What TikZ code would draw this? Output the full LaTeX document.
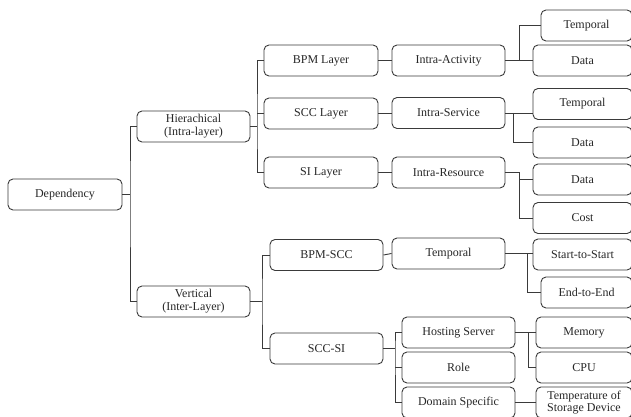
\documentclass[tikz,border=0pt]{standalone}
\usepackage{fontspec}
\setmainfont{Liberation Serif}
\definecolor{linec}{HTML}{3A3A3A}
\begin{document}
\begin{tikzpicture}[x=1pt,y=-1pt,
  box/.style={draw=linec,line width=0.9pt,rounded corners=5pt,inner sep=0pt,
    minimum height=31pt,align=center,font=\fontsize{12}{13}\selectfont,text=black!85},
  conn/.style={draw=linec,line width=0.9pt}]
\useasboundingbox (0,0) rectangle (631,417);
\clip (0,0) rectangle (631,417);
% level 0-1
\node[box,minimum width=114pt] (dep) at (65,194.5) {Dependency};
\node[box,minimum width=113pt] (hier) at (193.5,126.5) {Hierachical\\(Intra-layer)};
\node[box,minimum width=113pt] (vert) at (193.5,301.5) {Vertical\\(Inter-Layer)};
% layers
\node[box,minimum width=114pt] (bpml) at (321,60.5) {BPM Layer};
\node[box,minimum width=114pt] (sccl) at (321,113.5) {SCC Layer};
\node[box,minimum width=114pt] (sil) at (321,172.5) {SI Layer};
\node[box,minimum width=113pt] (ia) at (448.5,60.5) {Intra-Activity};
\node[box,minimum width=113pt] (is) at (448.5,113) {Intra-Service};
\node[box,minimum width=113pt] (ir) at (448.5,172.5) {Intra-Resource};
\node[box,minimum width=91pt] (t1) at (586.5,25.5) {Temporal};
\node[box,minimum width=99pt] (d1) at (582.5,60.5) {Data};
\node[box,minimum width=99pt] (t2) at (582.5,104) {Temporal};
\node[box,minimum width=99pt] (d2) at (582.5,142.5) {Data};
\node[box,minimum width=99pt] (d3) at (582.5,179.5) {Data};
\node[box,minimum width=99pt] (cost) at (582.5,218) {Cost};
% vertical
\node[box,minimum width=113pt] (bpmscc) at (326.5,255) {BPM-SCC};
\node[box,minimum width=113pt] (sccsi) at (326.5,348.5) {SCC-SI};
\node[box,minimum width=113pt] (temp) at (448.5,253.5) {Temporal};
\node[box,minimum width=99pt] (s2s) at (582.5,254.5) {Start-to-Start};
\node[box,minimum width=91pt] (e2e) at (586.5,292.5) {End-to-End};
\node[box,minimum width=113pt] (host) at (458.5,332.5) {Hosting Server};
\node[box,minimum width=113pt] (role) at (458.5,367.5) {Role};
\node[box,minimum width=113pt] (dom) at (458.5,402.5) {Domain Specific};
\node[box,minimum width=96pt] (mem) at (584,332.5) {Memory};
\node[box,minimum width=96pt] (cpu) at (584,367.5) {CPU};
\node[box,minimum width=96pt,font=\fontsize{12}{12}\selectfont] (tsd) at (584,402.5) {Temperature of\\Storage Device};
% junctions
\coordinate (j1) at (130,194.5);
\coordinate (j2) at (257,126.5);
\coordinate (j3) at (519,60.5);
\coordinate (j4) at (513,113);
\coordinate (j5) at (519,172.5);
\coordinate (j6) at (262,301.5);
\coordinate (j7) at (527,253.5);
\coordinate (j8) at (395,348.5);
\coordinate (j9) at (528,332.5);
% connectors
\draw[conn] (dep.east) -- (j1);
\draw[conn] (hier.west) -| (j1) |- (vert.west);
\draw[conn] (hier.east) -- (j2);
\draw[conn] (bpml.west) -| (j2) |- (sil.west);
\draw[conn] (sccl.west) -- (sccl.west -| j2);
\draw[conn] (bpml) -- (ia);
\draw[conn] (sccl.east) -- (is.west |- sccl.east);
\draw[conn] (sil) -- (ir);
\draw[conn] (ia.east) -- (d1.west);
\draw[conn] (t1.west) -| (j3);
\draw[conn] (is.east) -- (is.east -| t2.west);
\draw[conn] (j4) |- (d2.west);
\draw[conn] (ir.east) -- (j5) |- (cost.west);
\draw[conn] (d3.west) -- (d3.west -| j5);
\draw[conn] (vert.east) -- (j6);
\draw[conn] (bpmscc.west) -| (j6) |- (sccsi.west);
\draw[conn] (bpmscc.east) -- (temp.west);
\draw[conn] (temp.east) -- (temp.east -| s2s.west);
\draw[conn] (j7) |- (e2e.west);
\draw[conn] (sccsi.east) -- (j8);
\draw[conn] (host.west) -| (j8) |- (dom.west);
\draw[conn] (role.west) -- (role.west -| j8);
\draw[conn] (host.east) -- (mem.west);
\draw[conn] (j9) |- (cpu.west);
\draw[conn] (dom) -- (tsd);
\end{tikzpicture}
\end{document}
